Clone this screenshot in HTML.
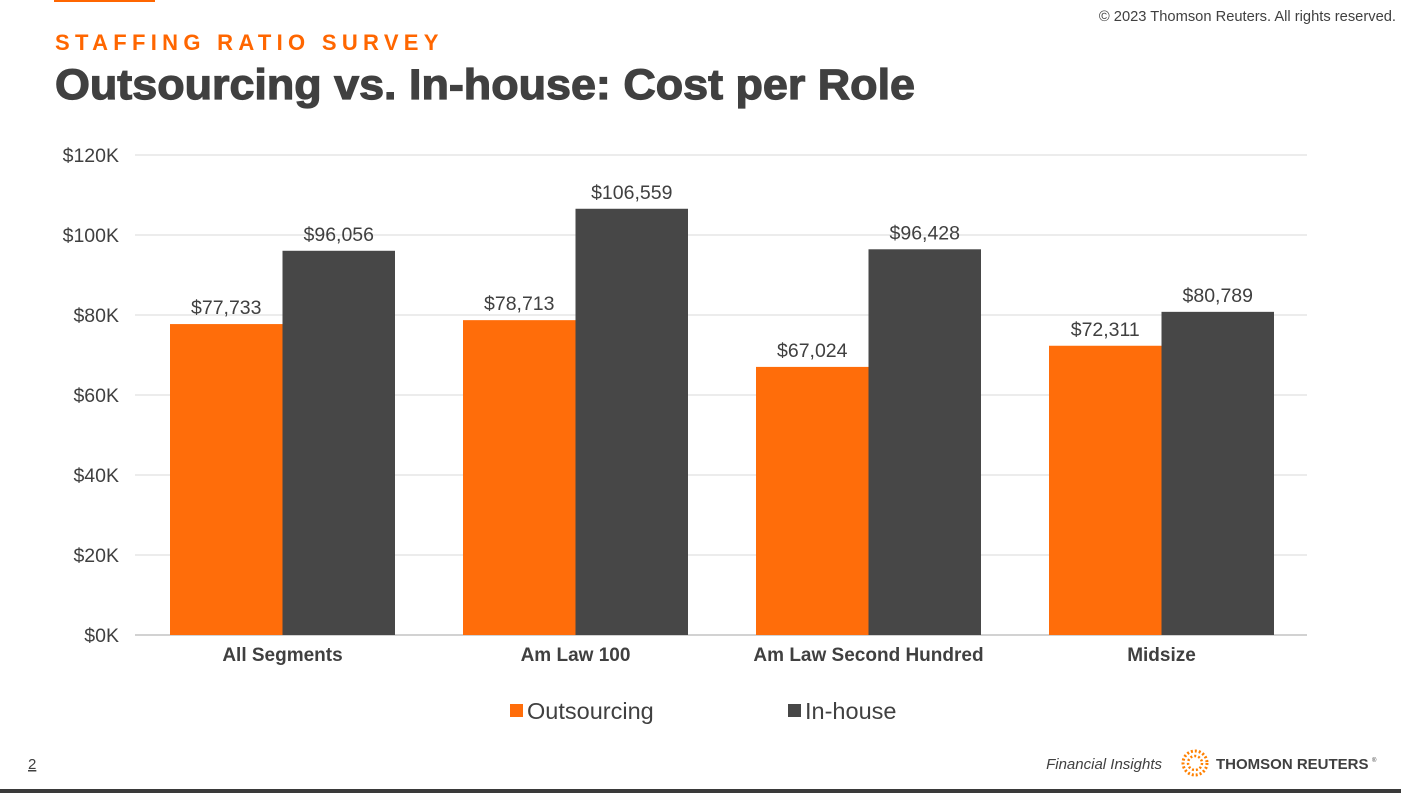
<!DOCTYPE html>
<html><head><meta charset="utf-8"><style>
html,body{margin:0;padding:0;background:#fff;}
svg{display:block;font-family:"Liberation Sans",Arial,sans-serif;}
</style></head><body>
<svg id="chart" width="1401" height="793" viewBox="0 0 1401 793">
<rect x="54" y="0" width="101" height="2" fill="#ff6600"/>
<text x="1396" y="21" text-anchor="end" font-size="14.7" fill="#404040">© 2023 Thomson Reuters. All rights reserved.</text>
<text x="55" y="50" font-size="22" font-weight="bold" fill="#ff6600" letter-spacing="5.3">STAFFING RATIO SURVEY</text>
<text x="55" y="99" font-size="43" font-weight="bold" fill="#404040" textLength="860" lengthAdjust="spacingAndGlyphs" stroke="#404040" stroke-width="1.2">Outsourcing vs. In-house: Cost per Role</text>
<g id="grid"></g>
<g id="bars"></g>
<g id="legend">
<rect x="510" y="704" width="13" height="13" fill="#ff6d0a"/>
<text x="527" y="719" font-size="23.5" fill="#404040">Outsourcing</text>
<rect x="788" y="704" width="13" height="13" fill="#474747"/>
<text x="805" y="719" font-size="23.5" fill="#404040">In-house</text>
</g>
<text x="28" y="769" font-size="15" fill="#404040" text-decoration="underline">2</text>
<text x="1162" y="769" text-anchor="end" font-size="15" font-style="italic" fill="#404040">Financial Insights</text>
<g>
<circle cx="1195" cy="763" r="12" fill="none" stroke="#ff8000" stroke-width="3" stroke-dasharray="2 2"/>
<circle cx="1195" cy="763" r="7" fill="none" stroke="#ff8000" stroke-width="2.5" stroke-dasharray="2 2"/>
</g>
<text x="1216" y="769" font-size="15" font-weight="bold" fill="#404040">THOMSON REUTERS</text>
<text x="1372" y="762" font-size="6" fill="#404040">®</text>
<rect x="0" y="789" width="1401" height="4" fill="#3a3a3a"/>
</svg>
<script>
const categories = ["All Segments","Am Law 100","Am Law Second Hundred","Midsize"];
const outsourcing = [77733,78713,67024,72311];
const inhouse = [96056,106559,96428,80789];
const yTicks = [0,20000,40000,60000,80000,100000,120000];
const yTickLabels = ["$0K","$20K","$40K","$60K","$80K","$100K","$120K"];
const NS="http://www.w3.org/2000/svg";
const x0=135,x1=1307,yBase=635,yTop=155,yMax=120000;
const y=v=>yBase-(v/yMax)*(yBase-yTop);
const groupW=(x1-x0)/categories.length;
const barW=112.5, off=35;
function mk(tag,attrs,parent,txt){const e=document.createElementNS(NS,tag);for(const k in attrs)e.setAttribute(k,attrs[k]);if(txt!=null)e.textContent=txt;parent.appendChild(e);return e;}
const grid=document.getElementById('grid'),bars=document.getElementById('bars');
yTicks.forEach((t,i)=>{
  const l=mk('line',{x1:x0,x2:x1,y1:y(t),y2:y(t),stroke:i==0?'#a6a6a6':'#d9d9d9','stroke-width':1},grid);
  
  
  const tx=mk('text',{x:119,y:y(t)+7,'text-anchor':'end','font-size':19.5,fill:'#404040'},grid,yTickLabels[i]);
  
  
});
const fmt=v=>'$'+v.toLocaleString('en-US');
categories.forEach((c,i)=>{
  const gx=x0+i*groupW;
  [[outsourcing[i],'#ff6d0a',gx+off,'bar-outsourcing'],[inhouse[i],'#474747',gx+off+barW,'bar-inhouse']].forEach(([v,col,bx,nm])=>{
    const r=mk('rect',{x:bx,y:y(v),width:barW,height:yBase-y(v),fill:col},bars);
    
    
    const t=mk('text',{x:bx+barW/2,y:y(v)-10,'text-anchor':'middle','font-size':19.5,fill:'#404040'},bars,fmt(v));
    
    
  });
  const ct=mk('text',{x:gx+off+barW,y:661,'text-anchor':'middle','font-size':19,'font-weight':'bold',fill:'#404040'},bars,c);
  
  
});
</script>
</body></html>
